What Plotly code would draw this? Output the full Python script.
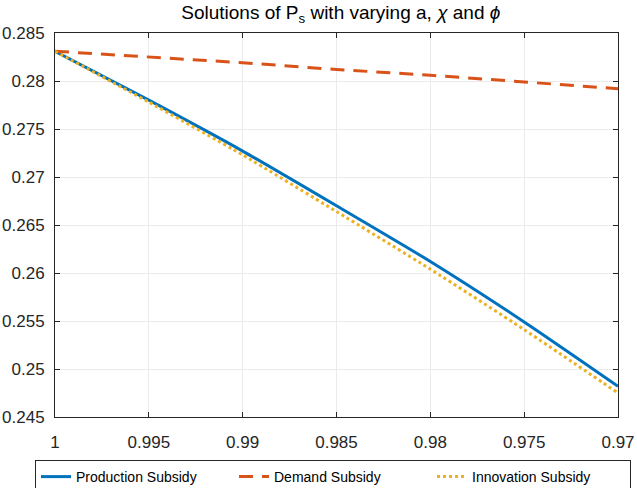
import plotly.graph_objects as go

a_vals = [1.0, 0.995, 0.99, 0.985, 0.98, 0.975, 0.97]
production = [0.2831, 0.2780, 0.2727, 0.2670, 0.2612, 0.2549, 0.2482]
demand = [0.2831, 0.2825, 0.2819, 0.2812, 0.2806, 0.2799, 0.2792]
innovation = [0.2831, 0.2778, 0.2723, 0.2664, 0.2604, 0.2541, 0.2475]

x_ticks = [1, 0.995, 0.99, 0.985, 0.98, 0.975, 0.97]
x_ticklabels = ["1", "0.995", "0.99", "0.985", "0.98", "0.975", "0.97"]
y_ticks = [0.245, 0.25, 0.255, 0.26, 0.265, 0.27, 0.275, 0.28, 0.285]
y_ticklabels = ["0.245", "0.25", "0.255", "0.26", "0.265", "0.27", "0.275", "0.28", "0.285"]

FONT = "Liberation Sans, Arial, Helvetica, sans-serif"

fig = go.Figure()
fig.add_trace(go.Scatter(x=a_vals, y=production, mode="lines", name="Production Subsidy",
                         line=dict(color="#0072BD", width=3, shape="spline", smoothing=0.6)))
fig.add_trace(go.Scatter(x=a_vals, y=demand, mode="lines", name="Demand Subsidy",
                         line=dict(color="#D95319", width=3, dash="14px,9px")))
fig.add_trace(go.Scatter(x=a_vals, y=innovation, mode="lines", name="Innovation Subsidy",
                         line=dict(color="#EDB120", width=3, dash="3px,3px",
                                   shape="spline", smoothing=0.6)))

axis_common = dict(showline=True, linecolor="#262626", linewidth=1, mirror="ticks",
                   ticks="inside", ticklen=5, tickcolor="#262626",
                   showgrid=True, gridcolor="#ebebeb", gridwidth=1, zeroline=False,
                   ticklabeloverflow="allow", automargin=False,
                   tickfont=dict(family=FONT, size=17, color="#262626"))

fig.update_layout(
    width=637, height=488,
    paper_bgcolor="white", plot_bgcolor="white",
    margin=dict(l=55, r=19, t=33, b=71, autoexpand=False),
    title=dict(text="Solutions of P<sub>s</sub> with varying a, <i>χ</i> and <i>ϕ</i>",
               x=0.535, xanchor="center", y=0.975, yanchor="middle",
               font=dict(family=FONT, size=19, color="black")),
    xaxis=dict(range=[1, 0.97], tickvals=x_ticks, ticktext=x_ticklabels,
               ticklabelstandoff=10, **axis_common),
    yaxis=dict(range=[0.245, 0.285], tickvals=y_ticks, ticktext=y_ticklabels,
               ticklabelstandoff=6, **axis_common),
    legend=dict(orientation="h", x=-0.0355, xanchor="left",
                y=-0.112, yanchor="top",
                bordercolor="#262626", borderwidth=1, bgcolor="white",
                font=dict(family=FONT, size=14, color="black"),
                entrywidth=153, itemwidth=30, tracegroupgap=0),
    showlegend=True,
)

fig.write_html("out.html", config={"displayModeBar": False},
               post_script="document.body.style.margin='0px';")
